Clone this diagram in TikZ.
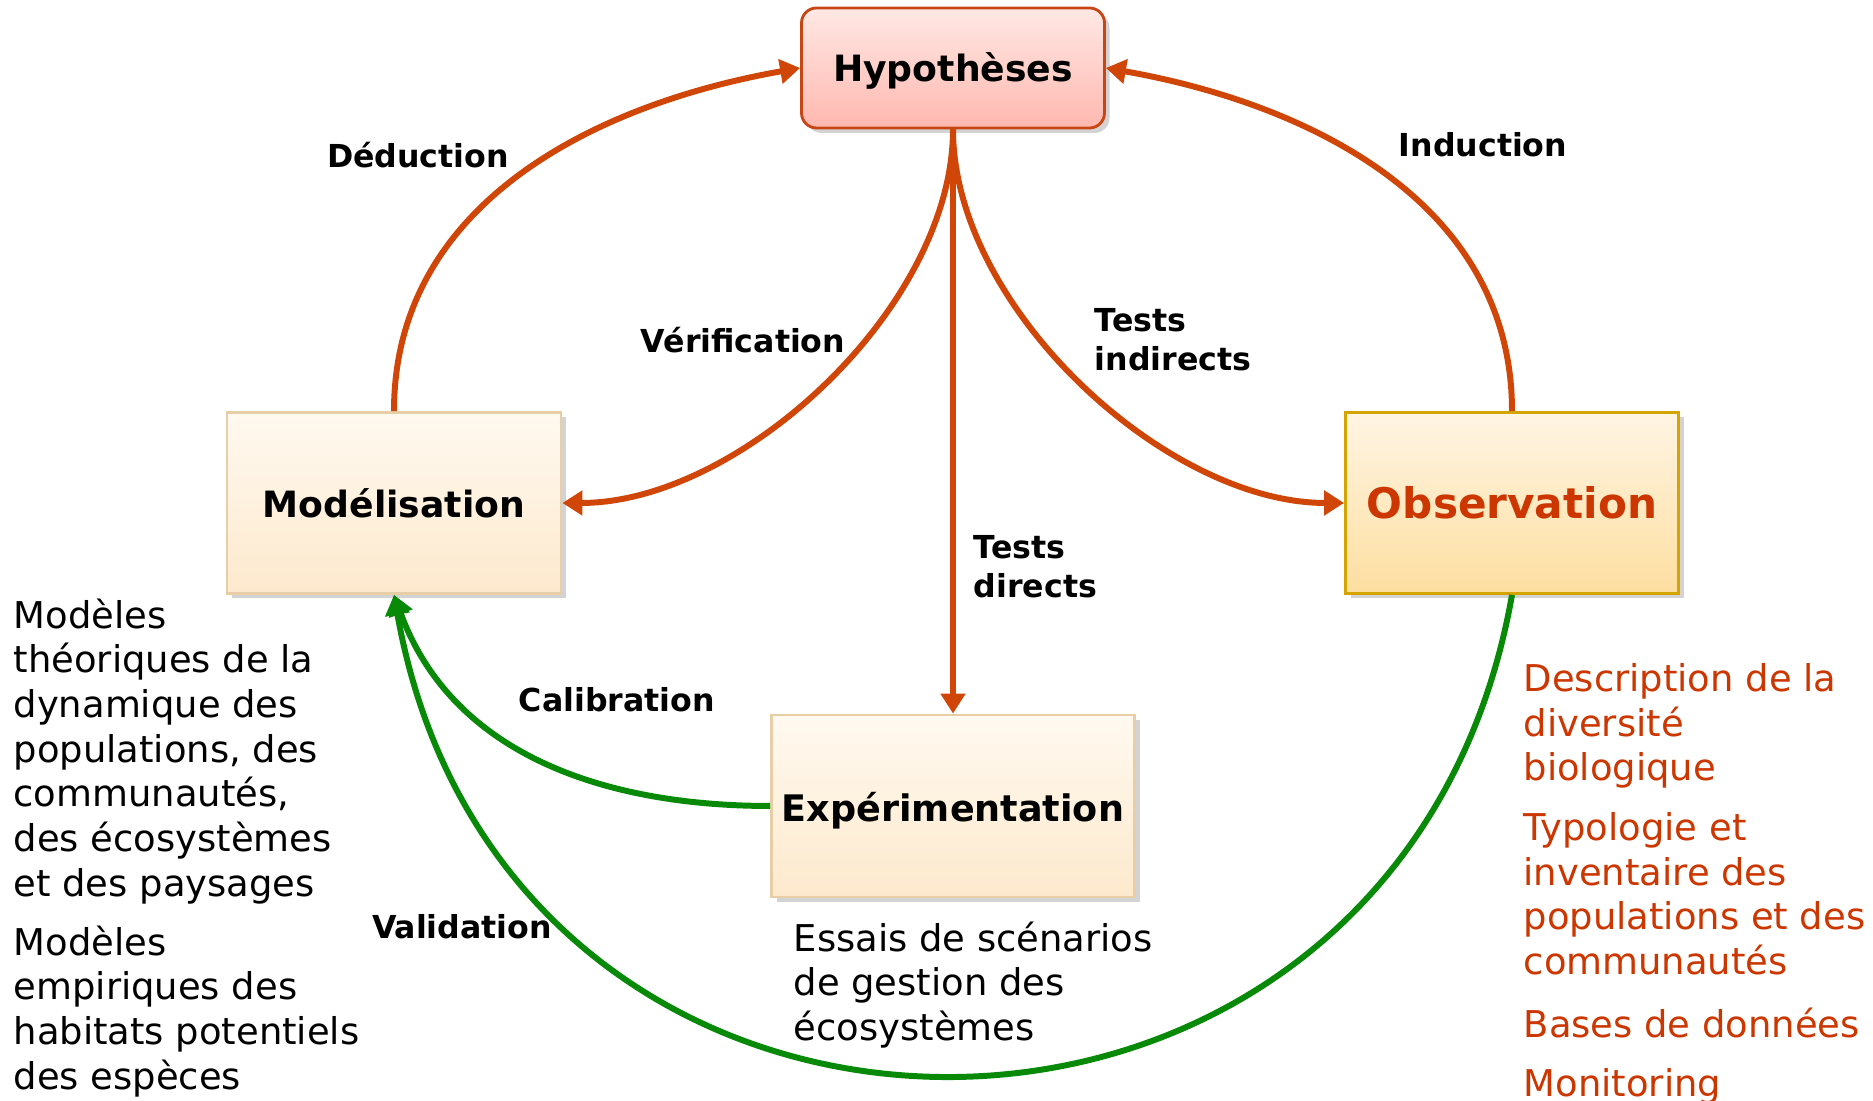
\documentclass[tikz,border=0pt]{standalone}
\usepackage{fontspec}
\setmainfont{DejaVu Sans}
\usetikzlibrary{arrows.meta,positioning,shadows}

\definecolor{arrorange}{RGB}{208,70,8}
\definecolor{arrgreen}{RGB}{8,138,8}
\definecolor{obstext}{RGB}{204,54,0}
\definecolor{hypline}{RGB}{200,70,20}
\definecolor{hyptop}{RGB}{255,232,228}
\definecolor{hypbot}{RGB}{255,184,176}
\definecolor{boxline}{RGB}{232,206,166}
\definecolor{boxtop}{RGB}{255,249,240}
\definecolor{boxbot}{RGB}{253,233,205}
\definecolor{obsline}{RGB}{214,164,0}
\definecolor{obstop}{RGB}{255,245,228}
\definecolor{obsbot}{RGB}{253,222,160}

\begin{document}
\begin{tikzpicture}[
    box/.style={draw=boxline,line width=0.8pt,top color=boxtop,bottom color=boxbot,
      minimum height=1.81cm,inner sep=0pt,
      drop shadow={opacity=0.35,shadow xshift=0.05cm,shadow yshift=-0.05cm},
      font=\fontsize{10.3}{12}\selectfont\bfseries},
    lbl/.style={font=\fontsize{9}{11}\selectfont\bfseries,align=left,inner sep=0pt},
    txt/.style={font=\fontsize{10.5}{12.7}\selectfont,align=left,anchor=north west,inner sep=0pt},
    arr/.style={line width=1.7pt,draw=arrorange,-{Triangle[length=0.2cm,width=0.24cm]}},
    grn/.style={arr,draw=arrgreen}
  ]
    \useasboundingbox (0,0) rectangle (18.73,11.01);

    \node[box,rounded corners=0.15cm,draw=hypline,top color=hyptop,bottom color=hypbot,
      minimum width=3.03cm,minimum height=1.2cm,text height=10.3pt,text depth=2.4pt]
      (hyp) at (9.53,10.33) {Hypothèses};
    \node[box,minimum width=3.34cm] (mod) at (3.94,5.98) {Modélisation};
    \node[box,draw=obsline,top color=obstop,bottom color=obsbot,minimum width=3.33cm,
      text=obstext,font=\fontsize{12}{14}\selectfont\bfseries] (obs) at (15.12,5.98) {Observation};
    \node[box,minimum width=3.63cm,minimum height=1.82cm,text height=11pt,text depth=2.45pt,
      font=\fontsize{10.4}{12}\selectfont\bfseries] (exp) at (9.53,2.95) {Expérimentation};

    \draw[arr] (mod.north) to[out=90,in=190] (hyp.west);
    \draw[arr] (obs.north) to[out=90,in=-10] (hyp.east);
    \draw[arr] (hyp.south) to[out=-90,in=0,looseness=0.84] (mod.east);
    \draw[arr] (hyp.south) to[out=-90,in=180,looseness=0.84] (obs.west);
    \draw[arr] (hyp.south) -- (exp.north);
    \draw[grn] (exp.west) to[out=180,in=-70] (mod.south);
    \draw[grn] (obs.south) to[out=-100,in=-80,looseness=1.49] (mod.south);

    \node[lbl] (ded) at (4.18,9.46) {Déduction};
    \node[lbl] (ind) at (14.83,9.56) {Induction};
    \node[lbl] (ver) at (7.43,7.61) {Vérification};
    \node[lbl,anchor=west] (tind) at (10.94,7.61) {Tests\\indirects};
    \node[lbl,anchor=west] (tdir) at (9.73,5.34) {Tests\\directs};
    \node[lbl] (cal) at (6.17,4.01) {Calibration};
    \node[lbl] (val) at (4.62,1.74) {Validation};

    \node[txt] (theo) at (0.13,5.03) {Modèles\\théoriques de la\\dynamique des\\populations, des\\communautés,\\des écosystèmes\\et des paysages};
    \node[txt] (empi) at (0.13,1.76) {Modèles\\empiriques des\\habitats potentiels\\des espèces};
    \node[txt] (essai) at (7.93,1.80) {Essais de scénarios\\de gestion des\\écosystèmes};
    \node[txt,text=obstext] (desc) at (15.23,4.38) {Description de la\\diversité\\biologique};
    \node[txt,text=obstext] (typo) at (15.23,2.89) {Typologie et\\inventaire des\\populations et des\\communautés};
    \node[txt,text=obstext] (bases) at (15.23,0.94) {Bases de données};
    \node[txt,text=obstext] (moni) at (15.23,0.33) {Monitoring};
  \end{tikzpicture}
\end{document}
